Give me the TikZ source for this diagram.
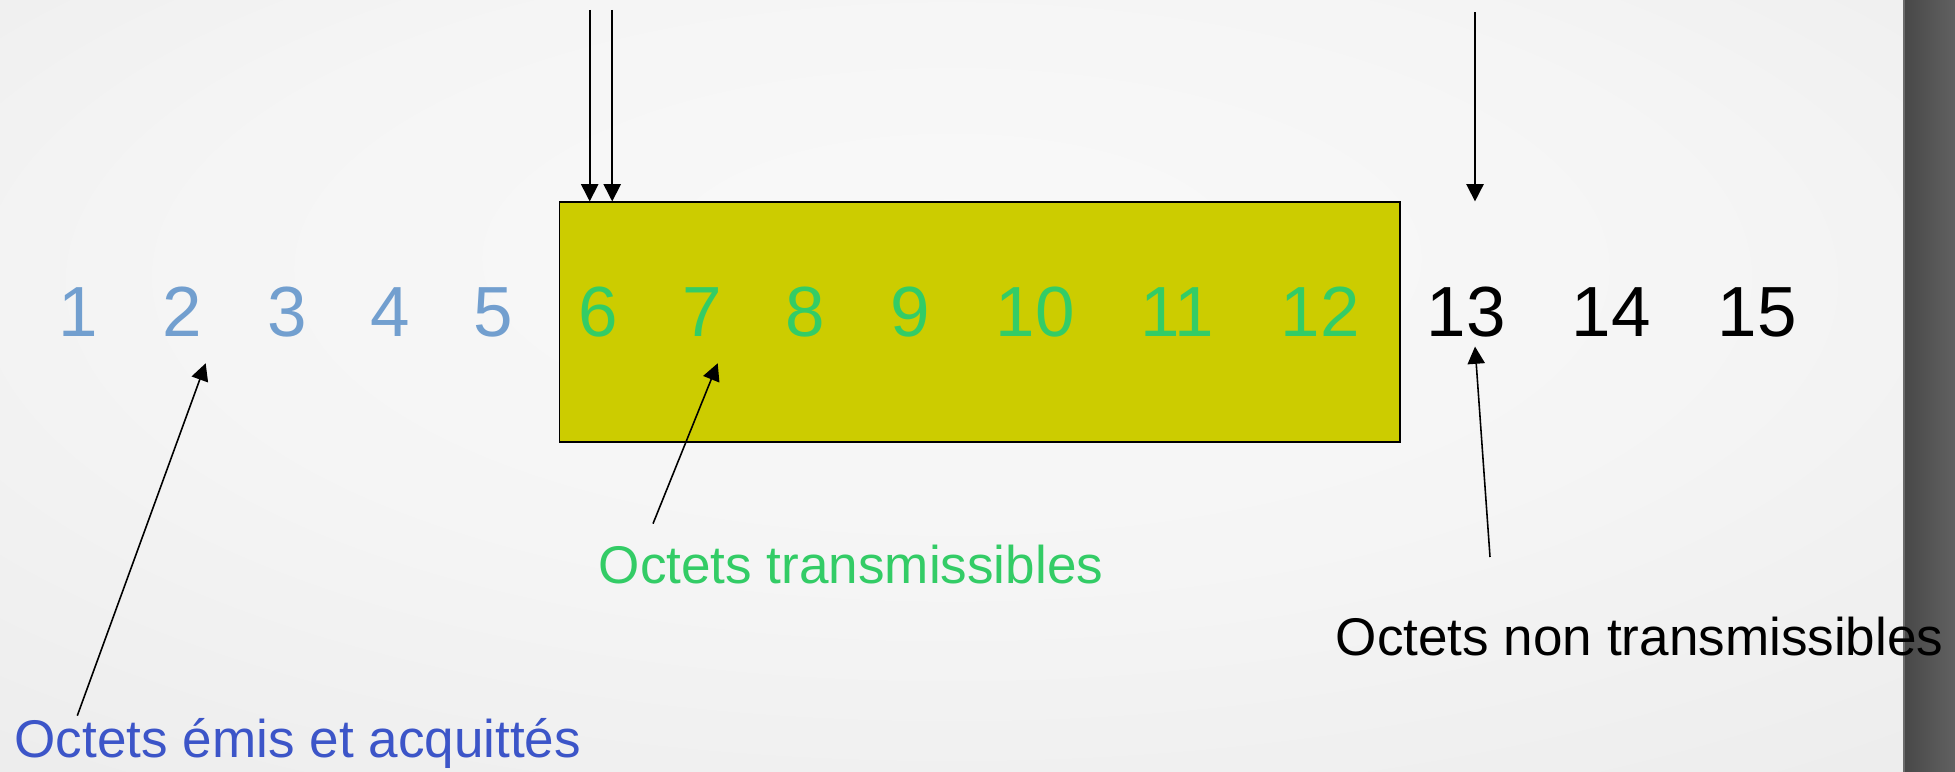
\documentclass[tikz,border=0pt]{standalone}
\usepackage{fontspec}
\setmainfont{Liberation Sans}
\usetikzlibrary{arrows.meta,positioning}

\definecolor{sentblue}{HTML}{729FCF}
\definecolor{okgreen}{HTML}{33CC66}
\definecolor{winyellow}{HTML}{CCCC00}
\definecolor{ackblue}{HTML}{3C55C8}
\definecolor{bgin}{HTML}{F9F9F9}
\definecolor{bgout}{HTML}{DEDEDE}

\pgfdeclareradialshading{slidebg}{\pgfpoint{0bp}{10bp}}{color(0bp)=(bgin); color(20bp)=(bgin!85!bgout); color(72bp)=(bgout)}

\begin{document}
\begin{tikzpicture}[
    num/.style={anchor=base, inner sep=0pt, font=\fontsize{20.2}{24}\selectfont},
    txt/.style={anchor=base west, inner sep=0pt, font=\fontsize{15.1}{18}\selectfont},
    arrow/.style={line width=0.45pt, -{Triangle[width=4.9pt,length=4.9pt]}}
]
    \useasboundingbox (0,0) rectangle (19.55,7.72);
    % slide background
    \shade[shading=slidebg] (0,0) rectangle (19.03,7.72);
    \shade[left color=black!72, right color=black!62] (19.03,0) rectangle (19.55,7.72);
    \draw[black!58, line width=0.5pt] (19.04,0) -- (19.04,7.72);

    % sliding window
    \node (win) [draw=black, line width=0.45pt, fill=winyellow, inner sep=0pt,
        minimum width=8.404cm, minimum height=2.40cm, anchor=south west] at (5.586,3.29) {};

    % byte numbers
    \foreach \n/\x in {1/0.785, 2/1.82, 3/2.868, 4/3.90, 5/4.937}
        \node (n\n) [num, text=sentblue] at (\x,4.35) {\n};
    \foreach \n/\x in {6/5.985, 7/7.02, 8/8.055, 9/9.10, 10/10.35, 11/11.77, 12/13.20}
        \node (n\n) [num, text=okgreen] at (\x,4.35) {\n};
    \foreach \n/\x in {13/14.66, 14/16.11, 15/17.57}
        \node (n\n) [num, text=black] at (\x,4.35) {\n};

    % labels
    \node (ok) [txt, anchor=base, text=okgreen] at (8.51,1.885) {Octets transmissibles};
    \node (ko) [txt, text=black] at (13.35,1.16) {Octets non transmissibles};
    \node (ack) [txt, text=ackblue] at (0.14,0.14) {Octets émis et acquittés};

    % pointers
    \coordinate (p1) at (5.897,7.62);
    \coordinate (p2) at (6.122,7.62);
    \coordinate (p3) at (14.75,7.595);
    \draw [arrow] (p1) -- (p1 |- win.north);
    \draw [arrow] (p2) -- (p2 |- win.north);
    \draw [arrow] (p3) -- (p3 |- win.north);

    \coordinate (ackTail) at (0.773,0.563);
    \coordinate (ackTip) at (2.057,4.087);
    \coordinate (okTail) at (6.53,2.483);
    \coordinate (okTip) at (7.177,4.087);
    \coordinate (koTail) at (14.90,2.15);
    \coordinate (koTip) at (14.75,4.254);
    \draw [arrow] (ackTail) -- (ackTip);
    \draw [arrow] (okTail) -- (okTip);
    \draw [arrow] (koTail) -- (koTip);
\end{tikzpicture}
\end{document}
